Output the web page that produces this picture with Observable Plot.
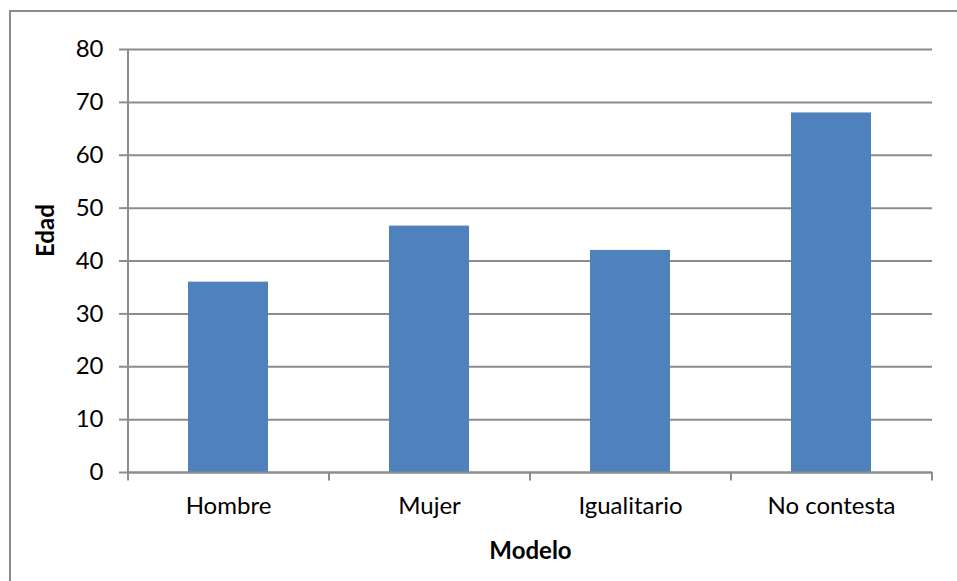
<!DOCTYPE html>
<html>
<head>
<meta charset="utf-8">
<script src="https://cdn.jsdelivr.net/npm/d3@7"></script>
<script src="https://cdn.jsdelivr.net/npm/@observablehq/plot@0.6"></script>
<style>
  html, body { margin: 0; padding: 0; background: #fff; }
  #wrap { position: relative; width: 957px; height: 581px; overflow: hidden; }
  #border { position: absolute; left: 9px; top: 10px; width: 960px; height: 600px;
            border-top: 2px solid #8c8c8c; border-left: 2px solid #8c8c8c; pointer-events: none; }
</style>
</head>
<body>
<div id="wrap"><div id="border"></div></div>
<script>
const categories = ["Hombre", "Mujer", "Igualitario", "No contesta"];
const values = [36, 46.6, 42, 68];
const yTicks = [0, 10, 20, 30, 40, 50, 60, 70, 80];
const xTitle = "Modelo";
const yTitle = "Edad";

const data = categories.map((c, i) => ({modelo: c, edad: values[i]}));

const W = 957, H = 581;
const mL = 128, mR = 25, mT = 49, mB = 109;
const step = (W - mL - mR) / categories.length;
const gray = "#8c8c8c";
const font = "Lato, 'Open Sans', sans-serif";
const fs = 24;

const chart = Plot.plot({
  width: W,
  height: H,
  marginLeft: mL,
  marginRight: mR,
  marginTop: mT,
  marginBottom: mB,
  style: {fontFamily: font, fontSize: fs + "px", color: "#000", background: "transparent"},
  x: {domain: categories, paddingInner: 0.6, paddingOuter: 0.3, label: null},
  y: {domain: [0, 80], label: null},
  marks: [
    Plot.gridY(yTicks, {stroke: gray, strokeOpacity: 1, strokeWidth: 2}),
    Plot.barY(data, {x: "modelo", y: "edad", fill: "#4F81BD"}),
    Plot.ruleX([0], {x: () => categories[0], dx: -step / 2, y1: 0, y2: 80, stroke: gray, strokeWidth: 2}),
    Plot.ruleY([0], {stroke: gray, strokeWidth: 2}),
    Plot.ruleX(categories, {x: d => d, dx: -step / 2, y1: 0, y2: -1.6, stroke: gray, strokeWidth: 2}),
    Plot.ruleX([categories[categories.length - 1]], {x: d => d, dx: step / 2, y1: 0, y2: -1.6, stroke: gray, strokeWidth: 2}),
    Plot.axisY(yTicks, {tickSize: 9, tickPadding: 16, stroke: gray, strokeWidth: 2, fill: "#000", label: null, fontSize: fs}),
    Plot.axisX({tickSize: 0, tickPadding: 24, fill: "#000", label: null, fontSize: fs}),
    Plot.text([xTitle], {frameAnchor: "bottom", dy: 86, lineAnchor: "bottom", fontWeight: "bold", fontSize: fs, fill: "#000"}),
    Plot.text([yTitle], {frameAnchor: "left", dx: -82, dy: -4, rotate: -90, fontWeight: "bold", fontSize: fs, fill: "#000"})
  ]
});
document.getElementById("wrap").prepend(chart);
</script>
</body>
</html>
